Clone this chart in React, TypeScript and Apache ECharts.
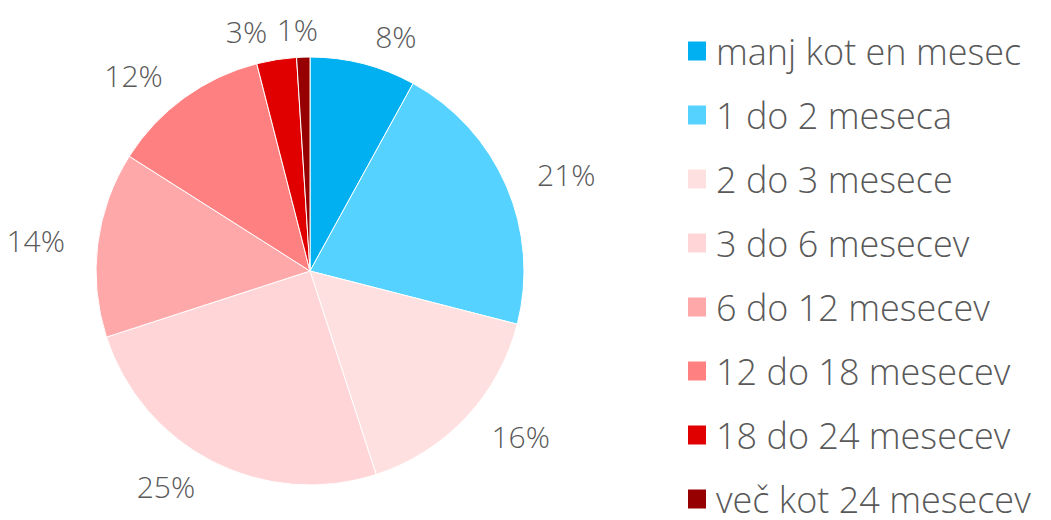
import React, { useEffect, useRef } from "react";
import * as echarts from "echarts";

const categories = [
  "manj kot en mesec",
  "1 do 2 meseca",
  "2 do 3 mesece",
  "3 do 6 mesecev",
  "6 do 12 mesecev",
  "12 do 18 mesecev",
  "18 do 24 mesecev",
  "več kot 24 mesecev",
];
const values = [8, 21, 16, 25, 14, 12, 3, 1];
const colors = ["#00B0F0", "#55D2FF", "#FFE0E1", "#FFD5D7", "#FFA8AA", "#FF8080", "#E00000", "#960000"];

const CX = 310;
const CY = 271;

export default function App() {
  const ref = useRef<HTMLDivElement>(null);
  useEffect(() => {
    if (!ref.current) return;
    const chart = echarts.init(ref.current, undefined, { renderer: "svg" });
    chart.setOption({
      animation: false,
      backgroundColor: "#ffffff",
      color: colors,
      legend: {
        orient: "vertical",
        left: 686,
        top: 33,
        height: 700,
        padding: 0,
        itemWidth: 20,
        itemHeight: 21,
        itemGap: 28,
        icon: "rect",
        data: categories,
        textStyle: {
          fontFamily: "Open Sans",
          fontWeight: 300,
          fontSize: 36,
          color: "#595959",
          padding: [0, 0, 0, 4],
        },
      },
      series: [
        {
          type: "pie",
          center: [CX, CY],
          radius: 214,
          startAngle: 90,
          clockwise: true,
          avoidLabelOverlap: false,
          itemStyle: { borderColor: "#ffffff", borderWidth: 1 },
          label: {
            show: true,
            position: "outside",
            formatter: (p: any) => p.value + "%",
            fontFamily: "Open Sans",
            fontWeight: 300,
            fontSize: 30,
            color: "#595959",
          },
          labelLine: { show: false, length: 28, length2: 0 },
          labelLayout: (params: any) => {
            const r = params.labelRect;
            if (!r) return { hideOverlap: false };
            const ax = params.align === "right" ? r.x + r.width : r.x;
            const ay = r.y + r.height / 2;
            const dx = ax - CX;
            const dy = ay - CY;
            if (Math.abs(dx) < 0.1 * Math.abs(dy)) {
              return { hideOverlap: false, align: "center" };
            }
            return { hideOverlap: false };
          },
          data: categories.map((c, i) => ({ name: c, value: values[i] })),
        },
      ],
    });
    return () => chart.dispose();
  }, []);
  return (
    <div
      ref={ref}
      style={{ position: "fixed", left: 0, top: 0, width: 1051, height: 520 }}
    />
  );
}
